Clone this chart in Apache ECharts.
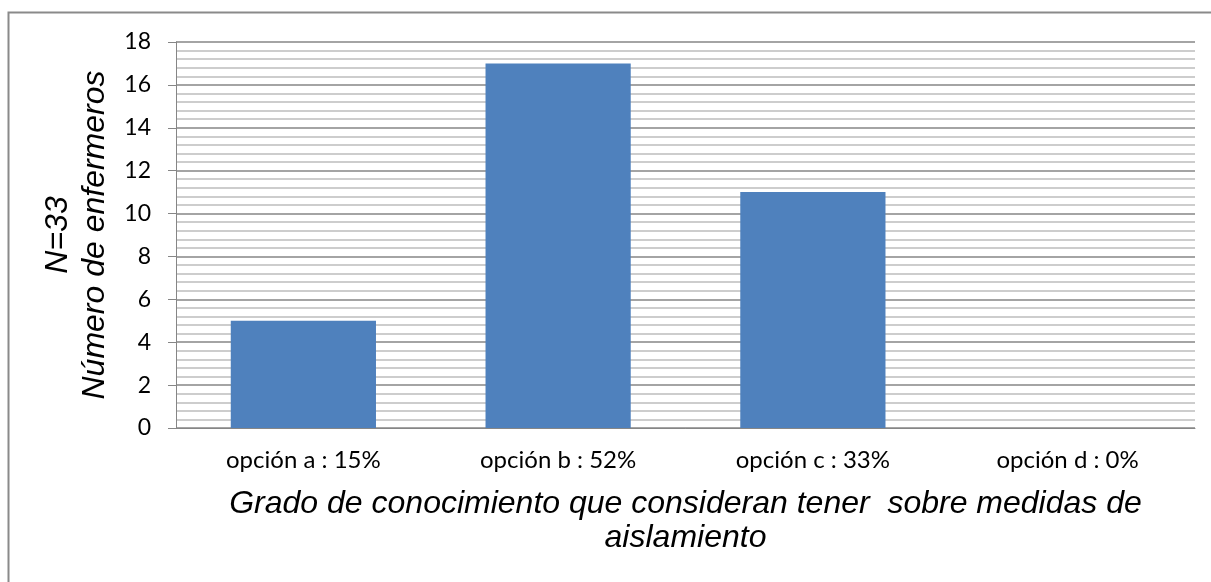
<!DOCTYPE html>
<html>
<head>
<meta charset="utf-8">
<script src="https://cdn.jsdelivr.net/npm/echarts@6/dist/echarts.min.js"></script>
<style>
    html, body { margin: 0; padding: 0; background: #fff; }
    #main { width: 1211px; height: 582px; }
</style>
</head>
<body>
<div id="main"></div>
<script>
    // datos
    var categories = ['opción a : 15%', 'opción b : 52%', 'opción c : 33%', 'opción d : 0%'];
    var enfermeros = [5, 17, 11, 0];
    var yTicks = [0, 2, 4, 6, 8, 10, 12, 14, 16, 18];

    var chartDom = document.getElementById('main');
    var myChart = echarts.init(chartDom);

    var option = {
        animation: false,
        graphic: [
            {
                type: 'rect',
                shape: { x: 8.5, y: 12.5, width: 1400, height: 800 },
                style: { fill: 'none', stroke: '#8a8a8a', lineWidth: 2 },
                silent: true
            }
        ],
        grid: { left: 176, right: 16, top: 42, bottom: 154 },
        xAxis: {
            type: 'category',
            data: categories,
            axisLine: { show: true, lineStyle: { color: '#868686', width: 1 } },
            axisTick: { show: false },
            axisLabel: { margin: 20, fontFamily: 'Lato', fontSize: 24, color: '#000' },
            name: 'Grado de conocimiento que consideran tener  sobre medidas de\naislamiento',
            nameLocation: 'middle',
            nameGap: 59,
            nameTextStyle: {
                fontFamily: 'Liberation Sans', fontStyle: 'italic', fontSize: 32,
                color: '#000', lineHeight: 34
            }
        },
        yAxis: {
            type: 'value',
            min: yTicks[0],
            max: yTicks[yTicks.length - 1],
            interval: 2,
            axisLine: { show: true, lineStyle: { color: '#868686', width: 1 } },
            axisTick: { show: true, length: 8, lineStyle: { color: '#868686' } },
            axisLabel: { margin: 25, fontFamily: 'Lato', fontSize: 23, color: '#000' },
            splitLine: { show: true, lineStyle: { color: '#868686', width: 1.5 } },
            minorTick: { show: false, splitNumber: 5 },
            minorSplitLine: { show: true, lineStyle: { color: '#bdbdbd', width: 1.5 } },
            name: 'N=33\nNúmero de enfermeros',
            nameLocation: 'middle',
            nameGap: 57,
            nameTextStyle: {
                fontFamily: 'Liberation Sans', fontStyle: 'italic', fontSize: 32,
                color: '#000', lineHeight: 37
            }
        },
        series: [
            {
                type: 'bar',
                data: enfermeros,
                barWidth: '57%',
                itemStyle: { color: '#4f81bd' }
            }
        ]
    };

    myChart.setOption(option);
</script>
</body>
</html>
